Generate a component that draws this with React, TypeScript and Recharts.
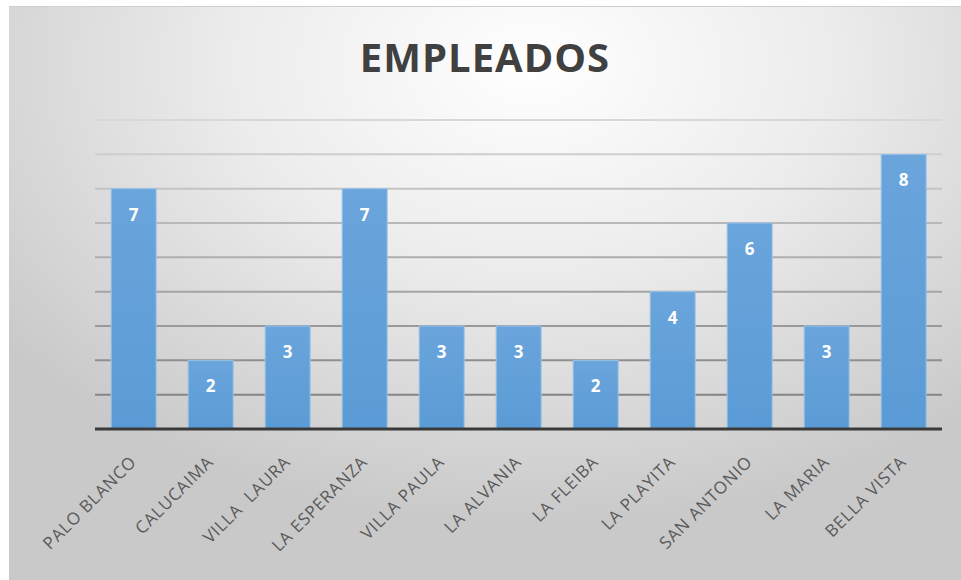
import React from "react";
import { BarChart, Bar, XAxis, YAxis, CartesianGrid, LabelList } from "recharts";

const categories = [
  "PALO BLANCO",
  "CALUCAIMA",
  "VILLA  LAURA",
  "LA ESPERANZA",
  "VILLA PAULA",
  "LA ALVANIA",
  "LA FLEIBA",
  "LA PLAYITA",
  "SAN ANTONIO",
  "LA MARIA",
  "BELLA VISTA",
];
const empleados = [7, 2, 3, 7, 3, 3, 2, 4, 6, 3, 8];
const yTicks = [0, 1, 2, 3, 4, 5, 6, 7, 8, 9];

const data = categories.map((name, i) => ({ name, empleados: empleados[i] }));

const FONT = "'Open Sans', 'Noto Sans', sans-serif";

// rotated category labels, end anchored near the tick
const AngledTick = (props: any) => {
  const { x, y, payload } = props;
  const ax = x + 4;
  const ay = y + 26;
  return (
    <text
      x={ax}
      y={ay}
      transform={`rotate(-45 ${ax} ${ay})`}
      textAnchor="end"
      fontSize={17}
      letterSpacing={0.8}
      fill="#595959"
      fontFamily={FONT}
      style={{ whiteSpace: "pre" }}
    >
      {payload.value}
    </text>
  );
};

export default function App() {
  return (
    <div style={{ position: "absolute", left: 0, top: 0, width: 961, height: 580, background: "#fff" }}>
      <div
        style={{
          position: "absolute",
          left: 9,
          top: 6,
          width: 952,
          height: 574,
          background: "radial-gradient(ellipse 70% 80% at 55% 10%, #ffffff 0%, #ececec 45%, #c9c9c9 100%)",
          borderTop: "1px solid #cfcfcf",
        }}
      >
        <div
          style={{
            position: "absolute",
            left: 0,
            width: 952,
            top: 22,
            textAlign: "center",
            fontFamily: FONT,
            fontWeight: 700,
            fontSize: 40,
            letterSpacing: 1,
            color: "#404040",
          }}
        >
          EMPLEADOS
        </div>
        <BarChart
          width={952}
          height={574}
          data={data}
          margin={{ top: 113, right: 19, left: 86, bottom: 0 }}
          barCategoryGap="21%"
        >
          <defs>
            <linearGradient id="gridGrad" x1="0" y1="113" x2="0" y2="422" gradientUnits="userSpaceOnUse">
              <stop offset="0%" stopColor="#d8d8d8" />
              <stop offset="100%" stopColor="#7a7a7a" />
            </linearGradient>
            <linearGradient id="barGrad" x1="0" y1="0" x2="0" y2="1">
              <stop offset="0%" stopColor="#6aa5dc" />
              <stop offset="100%" stopColor="#5b9bd5" />
            </linearGradient>
          </defs>
          <CartesianGrid vertical={false} stroke="url(#gridGrad)" strokeWidth={2} />
          <YAxis hide domain={[0, 9]} ticks={yTicks} />
          <XAxis
            dataKey="name"
            interval={0}
            height={152}
            tickLine={false}
            axisLine={{ stroke: "#3a3a3a", strokeWidth: 3 }}
            tick={<AngledTick />}
          />
          <Bar
            dataKey="empleados"
            fill="url(#barGrad)"
            stroke="#9cc3e8"
            strokeWidth={1}
            isAnimationActive={false}
          >
            <LabelList
              dataKey="empleados"
              position="insideTop"
              offset={20}
              fill="#ffffff"
              fontSize={17}
              fontWeight={700}
              fontFamily={FONT}
            />
          </Bar>
        </BarChart>
      </div>
    </div>
  );
}
